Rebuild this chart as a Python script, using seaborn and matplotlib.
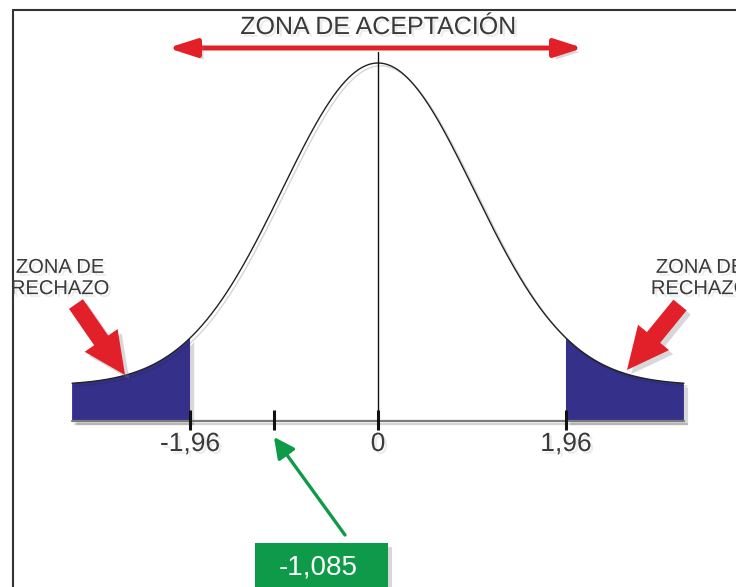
import numpy as np
import pandas as pd
import matplotlib
matplotlib.use("Agg")
import matplotlib.pyplot as plt
import matplotlib.patheffects as pe
from matplotlib.patches import FancyArrow, Rectangle
from matplotlib.lines import Line2D
from matplotlib.transforms import IdentityTransform
import seaborn as sns

# datos
z_critico = [-1.96, 1.96]
z_obs = -1.085
z_min, z_max = -3.19, 3.19
ticks = [-1.96, 0, 1.96]
tick_labels = ["-1,96", "0", "1,96"]
obs_label = "-1,085"
titulo = "ZONA DE ACEPTACIÓN"
rechazo = "ZONA DE\nRECHAZO"

W, H = 736, 587
sns.set_theme(style="white")
plt.rcParams["font.family"] = ["Liberation Sans", "DejaVu Sans"]

ROJO = "#e2202a"
AZUL = "#35318a"
VERDE = "#0e9a48"
GRIS = "#3a3a3a"

fig = plt.figure(figsize=(W / 100, H / 100), dpi=100)
ax = fig.add_axes([0, 0, 1, 1])

# curva normal estandar
z = np.union1d(np.linspace(z_min, z_max, 500), z_critico)
dens = np.exp(-z ** 2 / 2) / np.sqrt(2 * np.pi)
pico = 1 / np.sqrt(2 * np.pi)
base = -0.0443  # el eje va un poco por debajo de las colas
curva = pd.DataFrame({"z": z, "densidad": dens})

# escala en pixeles: 0 en x=378, eje en y=421, pico en y=63
px_x = 95.9
px_y = (421 - 63) / (pico - base)
ax.set_xlim(-378 / px_x, (W - 378) / px_x)
ax.set_ylim(base - (H - 421) / px_y, pico + 63 / px_y)

sombra_lin = [pe.SimpleLineShadow(offset=(2, -2), alpha=0.18), pe.Normal()]
sombra_pat = [pe.withSimplePatchShadow(offset=(3, -3), shadow_rgbFace="gray", alpha=0.3)]
sombra_txt = [pe.withSimplePatchShadow(offset=(2, -2), shadow_rgbFace="gray", alpha=0.15)]


def P(x, y):
    return (x, H - y)


# colas (zonas de rechazo)
izq = curva[curva.z <= z_critico[0]]
der = curva[curva.z >= z_critico[1]]
for parte in (izq, der):
    ax.fill_between(parte.z, parte.densidad, base, color=AZUL, lw=0,
                    path_effects=sombra_pat)

sns.lineplot(data=curva, x="z", y="densidad", ax=ax, color="#222222", lw=1.0,
             path_effects=sombra_lin)

# eje horizontal y linea central
ax.plot([z_min, z_max], [base, base], color="#7a7a7a", lw=1.6, path_effects=sombra_lin)
ax.plot([0, 0], [base, pico + 11 / px_y], color="#111111", lw=1.0)

for t in ticks + [z_obs]:
    ax.plot([t, t], [base - 9 / px_y, base + 11 / px_y], color="#111111", lw=2.2,
            solid_capstyle="butt")
for t, lab in zip(ticks, tick_labels):
    ax.text(t, base - 23 / px_y, lab, ha="center", va="center", fontsize=19,
            color=GRIS, path_effects=sombra_txt)

ax.set_axis_off()

# titulo y flecha doble
fig.text(378 / W, 1 - 27 / H, titulo, ha="center", va="center", fontsize=18,
         color=GRIS, path_effects=sombra_txt)
ax.annotate("", xy=P(168, 48), xycoords="figure pixels",
            xytext=P(583, 48), textcoords="figure pixels",
            arrowprops=dict(arrowstyle="<|-|>,head_length=1.4,head_width=0.45",
                            mutation_scale=12, lw=3.6, color=ROJO,
                            shrinkA=0, shrinkB=0, path_effects=sombra_pat))

# textos zona de rechazo
for cx in (60, 700):
    fig.text(cx / W, 1 - 278 / H, rechazo, ha="center", va="center", fontsize=14.5,
             linespacing=1.15, color=GRIS, path_effects=sombra_txt)

# flechas rojas gruesas
for (x0, y0), (x1, y1) in [((76, 304), (125, 375)), ((680, 305), (627, 370))]:
    a = FancyArrow(x0, H - y0, x1 - x0, -(y1 - y0), width=17, head_width=40,
                   head_length=42, length_includes_head=True, color=ROJO, lw=0,
                   transform=IdentityTransform(), path_effects=sombra_pat)
    fig.add_artist(a)

# valor observado
ax.annotate("", xy=(z_obs, base - 16 / px_y), xycoords="data",
            xytext=P(345, 535), textcoords="figure pixels",
            arrowprops=dict(arrowstyle="-|>,head_length=0.9,head_width=0.45",
                            mutation_scale=14, lw=2.4, color=VERDE,
                            shrinkA=0, shrinkB=0))
caja = Rectangle(P(255, 600), 133, 57, color=VERDE, lw=0,
                 transform=IdentityTransform(), path_effects=sombra_pat)
fig.add_artist(caja)
fig.text(318 / W, 1 - 568 / H, obs_label, ha="center", va="center", fontsize=20,
         color="white")

# marco
fig.add_artist(Line2D([13, 13], [H - 10, -5], color="#333333", lw=1.5,
                      transform=IdentityTransform()))
fig.add_artist(Line2D([13, W + 5], [H - 10, H - 10], color="#333333", lw=1.5,
                      transform=IdentityTransform()))

fig.savefig("out.png", dpi=100)
